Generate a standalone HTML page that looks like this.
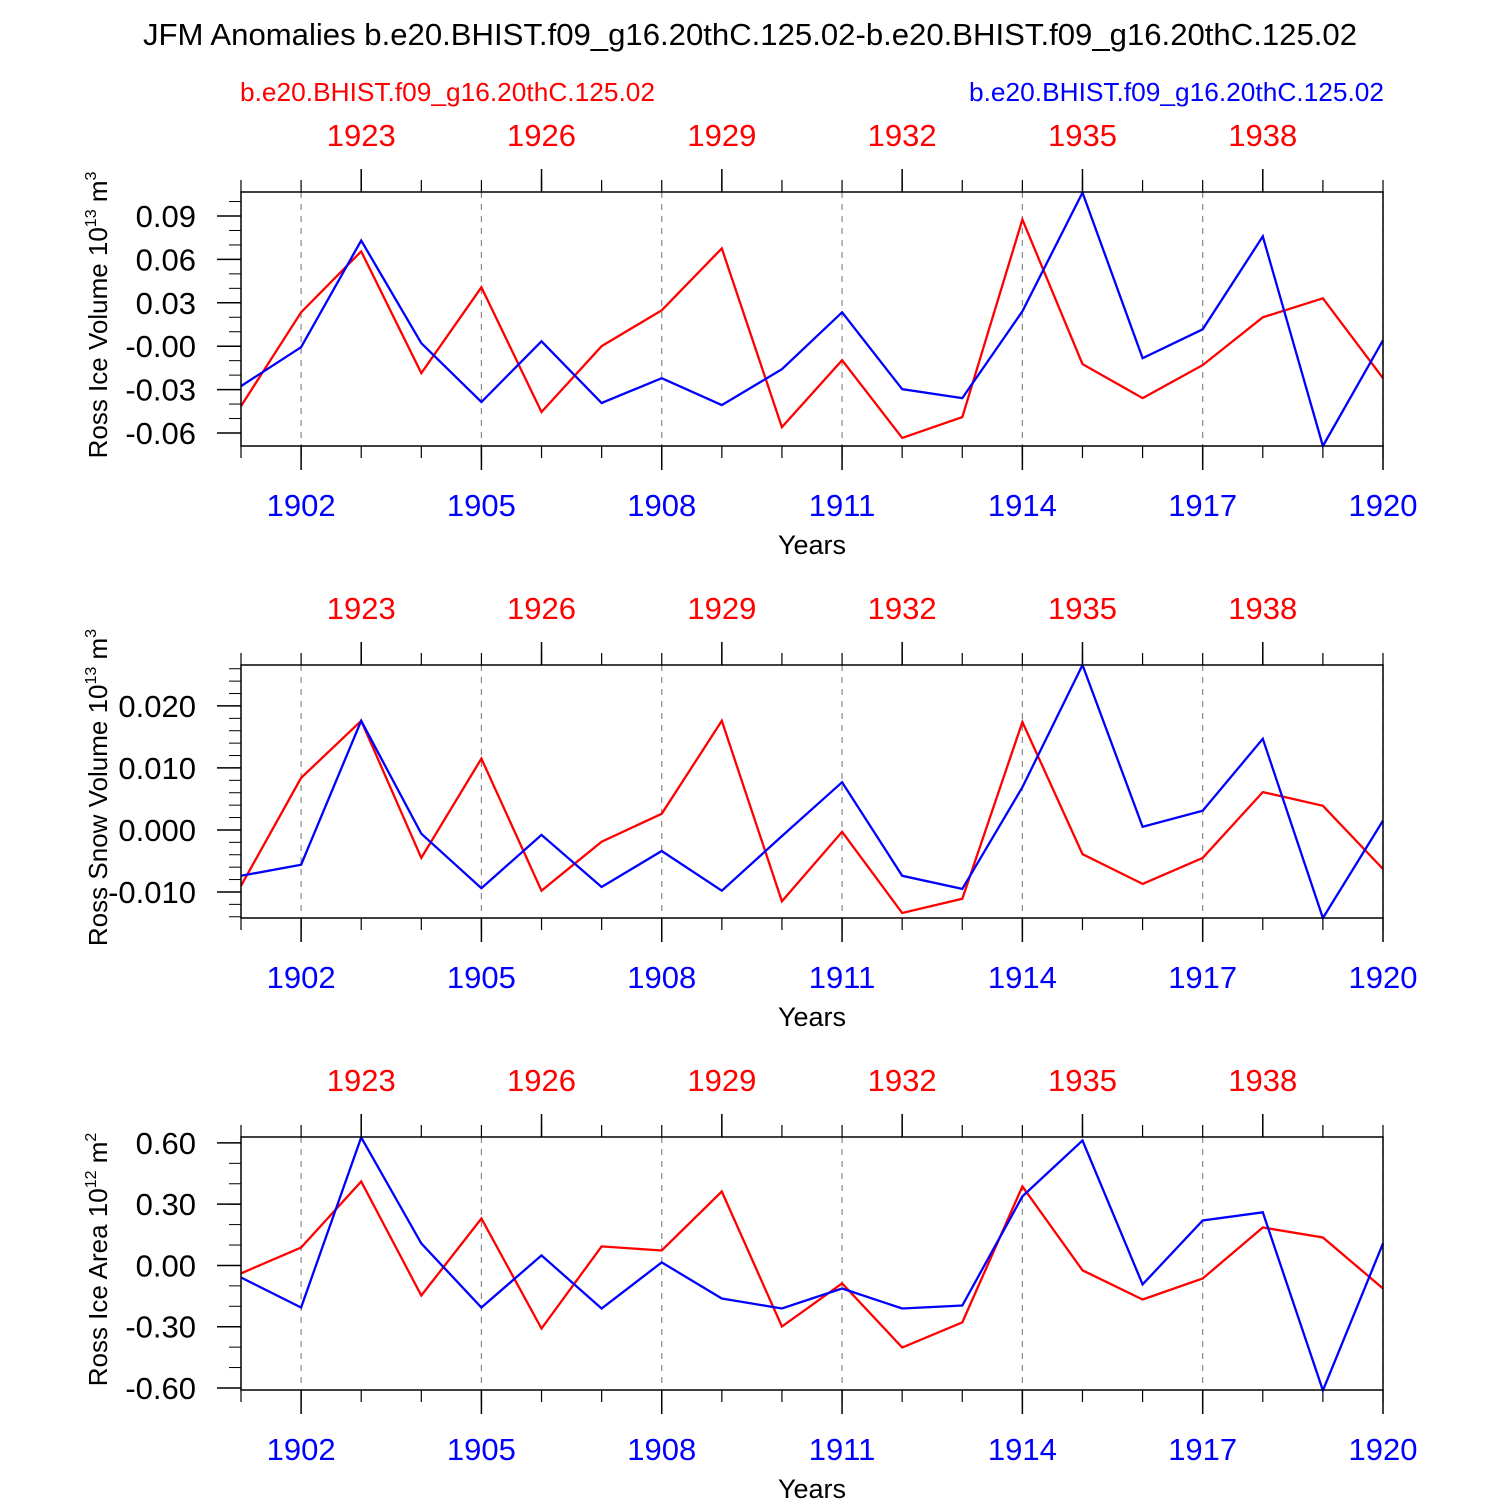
<!DOCTYPE html>
<html><head><meta charset="utf-8"><style>
html,body{margin:0;padding:0;background:#fff;}
svg{display:block;font-family:"Liberation Sans",sans-serif;}
</style></head><body>
<svg id="chart" width="1500" height="1500" viewBox="0 0 1500 1500" xmlns="http://www.w3.org/2000/svg">
<text x="750" y="45" text-anchor="middle" font-size="31" fill="#000" textLength="1214" lengthAdjust="spacingAndGlyphs">JFM Anomalies b.e20.BHIST.f09_g16.20thC.125.02-b.e20.BHIST.f09_g16.20thC.125.02</text>
<text x="240" y="101" font-size="26" fill="#f00" textLength="415" lengthAdjust="spacingAndGlyphs">b.e20.BHIST.f09_g16.20thC.125.02</text>
<text x="969" y="101" font-size="26" fill="#00f" textLength="415" lengthAdjust="spacingAndGlyphs">b.e20.BHIST.f09_g16.20thC.125.02</text>
</svg>
<script>
const years = [1901,1902,1903,1904,1905,1906,1907,1908,1909,1910,1911,1912,1913,1914,1915,1916,1917,1918,1919,1920];
const iceVolBlue = [-0.0276,-0.0007,0.0731,0.0021,-0.0386,0.0034,-0.0393,-0.0221,-0.0407,-0.0159,0.0234,-0.0297,-0.0359,0.0241,0.1062,-0.0083,0.0117,0.0759,-0.069,0.0041];
const iceVolRed = [-0.0414,0.0234,0.0655,-0.0186,0.0407,-0.0455,0.0,0.0248,0.0676,-0.0559,-0.0097,-0.0634,-0.049,0.0876,-0.0124,-0.0359,-0.0131,0.02,0.0331,-0.0221];
const snowVolBlue = [-0.0074,-0.0056,0.0176,-0.0006,-0.0094,-0.0008,-0.0092,-0.0034,-0.0098,-0.001,0.0077,-0.0074,-0.0095,0.0069,0.0266,0.0005,0.0031,0.0147,-0.0142,0.0015];
const snowVolRed = [-0.009,0.0084,0.0176,-0.0045,0.0115,-0.0098,-0.0019,0.0026,0.0176,-0.0115,-0.0003,-0.0134,-0.0111,0.0174,-0.0039,-0.0087,-0.0045,0.0061,0.0039,-0.0063];
const iceAreaBlue = [-0.059,-0.206,0.627,0.108,-0.206,0.049,-0.211,0.015,-0.162,-0.211,-0.113,-0.211,-0.196,0.338,0.612,-0.093,0.22,0.26,-0.612,0.108];
const iceAreaRed = [-0.039,0.088,0.411,-0.147,0.23,-0.309,0.093,0.073,0.362,-0.299,-0.088,-0.402,-0.279,0.387,-0.024,-0.167,-0.064,0.186,0.137,-0.113];
const bottomTickYears = [1902,1905,1908,1911,1914,1917,1920];
const topTickYears = [1903,1906,1909,1912,1915,1918];
const topTickLabels = ["1923","1926","1929","1932","1935","1938"];
const iceVolTicks = [0.09,0.06,0.03,0,-0.03,-0.06];
const iceVolTickLabels = ["0.09","0.06","0.03","-0.00","-0.03","-0.06"];
const snowVolTicks = [0.02,0.01,0,-0.01];
const snowVolTickLabels = ["0.020","0.010","0.000","-0.010"];
const iceAreaTicks = [0.6,0.3,0,-0.3,-0.6];
const iceAreaTickLabels = ["0.60","0.30","0.00","-0.30","-0.60"];

const NS = "http://www.w3.org/2000/svg";
const svg = document.getElementById("chart");
function mk(tag, attrs, parent){const e=document.createElementNS(NS,tag);for(const k in attrs)e.setAttribute(k,attrs[k]);(parent||svg).appendChild(e);return e;}

const X0=241, X1=1383;
function xs(yr){return X0+(yr-1901)*(X1-X0)/19;}

const panels = [
 {name:"ice-volume", top:192, bot:446, ymin:-0.069, ymax:0.1066, minor:0.01, ticks:iceVolTicks, labels:iceVolTickLabels, blue:iceVolBlue, red:iceVolRed, title:"Ross Ice Volume 10", exp:"13", unit:" m", uexp:"3"},
 {name:"snow-volume", top:665, bot:918, ymin:-0.0142, ymax:0.0266, minor:0.002, ticks:snowVolTicks, labels:snowVolTickLabels, blue:snowVolBlue, red:snowVolRed, title:"Ross Snow Volume 10", exp:"13", unit:" m", uexp:"3"},
 {name:"ice-area", top:1137, bot:1390, ymin:-0.61, ymax:0.629, minor:0.1, ticks:iceAreaTicks, labels:iceAreaTickLabels, blue:iceAreaBlue, red:iceAreaRed, title:"Ross Ice Area 10", exp:"12", unit:" m", uexp:"2"}
];

panels.forEach(p=>{
  const g = mk("g",{});
  
  
  const ys = v => p.bot-(v-p.ymin)/(p.ymax-p.ymin)*(p.bot-p.top);
  bottomTickYears.forEach(yr=>{
    const l=mk("line",{x1:xs(yr),x2:xs(yr),y1:p.top,y2:p.bot,stroke:"#888","stroke-width":1.2,"stroke-dasharray":"6,6"},g);
    
    
  });
  years.forEach(yr=>{
    mk("line",{x1:xs(yr),x2:xs(yr),y1:p.top,y2:p.top-12,stroke:"#000","stroke-width":1.2},g);
    mk("line",{x1:xs(yr),x2:xs(yr),y1:p.bot,y2:p.bot+12,stroke:"#000","stroke-width":1.2},g);
  });
  bottomTickYears.forEach(yr=>{
    mk("line",{x1:xs(yr),x2:xs(yr),y1:p.bot,y2:p.bot+24,stroke:"#000","stroke-width":1.5},g);
    const t=mk("text",{x:xs(yr),y:p.bot+70,"text-anchor":"middle","font-size":31,fill:"#00f"},g);
    t.textContent=yr;
    
    
  });
  topTickYears.forEach((yr,i)=>{
    mk("line",{x1:xs(yr),x2:xs(yr),y1:p.top,y2:p.top-23,stroke:"#000","stroke-width":1.5},g);
    const t=mk("text",{x:xs(yr),y:p.top-46,"text-anchor":"middle","font-size":31,fill:"#f00"},g);
    t.textContent=topTickLabels[i];
    
    
  });
  const step=p.minor;
  for(let v=Math.ceil(p.ymin/step-1e-6)*step; v<=p.ymax+1e-9; v+=step){
    const y=ys(v); if(y<p.top-0.5||y>p.bot+0.5) continue;
    mk("line",{x1:X0,x2:X0-12,y1:y,y2:y,stroke:"#000","stroke-width":1},g);
  }
  p.ticks.forEach((v,i)=>{
    const y=ys(v);
    mk("line",{x1:X0,x2:X0-24,y1:y,y2:y,stroke:"#000","stroke-width":1.5},g);
    const t=mk("text",{x:196,y:y+11,"text-anchor":"end","font-size":31,fill:"#000"},g);
    t.textContent=p.labels[i];
    
    
  });
  [[p.red,"#f00","red-series"],[p.blue,"#00f","blue-series"]].forEach(([arr,col,nm])=>{
    const pts=arr.map((v,i)=>xs(years[i]).toFixed(1)+","+ys(v).toFixed(1)).join(" ");
    const pl=mk("polyline",{points:pts,fill:"none",stroke:col,"stroke-width":2.3,"stroke-linejoin":"miter"},g);
    
    
  });
  const fr=mk("rect",{x:X0,y:p.top,width:X1-X0,height:p.bot-p.top,fill:"none",stroke:"#000","stroke-width":1.5},g);
  
  
  const xt=mk("text",{x:812,y:p.bot+108,"text-anchor":"middle","font-size":27,fill:"#000"},g);
  xt.textContent="Years";
  
  
  const yt=mk("text",{transform:"translate(107,"+((p.top+p.bot)/2-4)+") rotate(-90)","text-anchor":"middle","font-size":26,fill:"#000"},g);
  
  
  const s1=mk("tspan",{},yt); s1.textContent=p.title;
  const s2=mk("tspan",{dy:-11,"font-size":16},yt); s2.textContent=p.exp;
  const s3=mk("tspan",{dy:11},yt); s3.textContent=p.unit;
  const s4=mk("tspan",{dy:-11,"font-size":16},yt); s4.textContent=p.uexp;
});
</script>
</body></html>
